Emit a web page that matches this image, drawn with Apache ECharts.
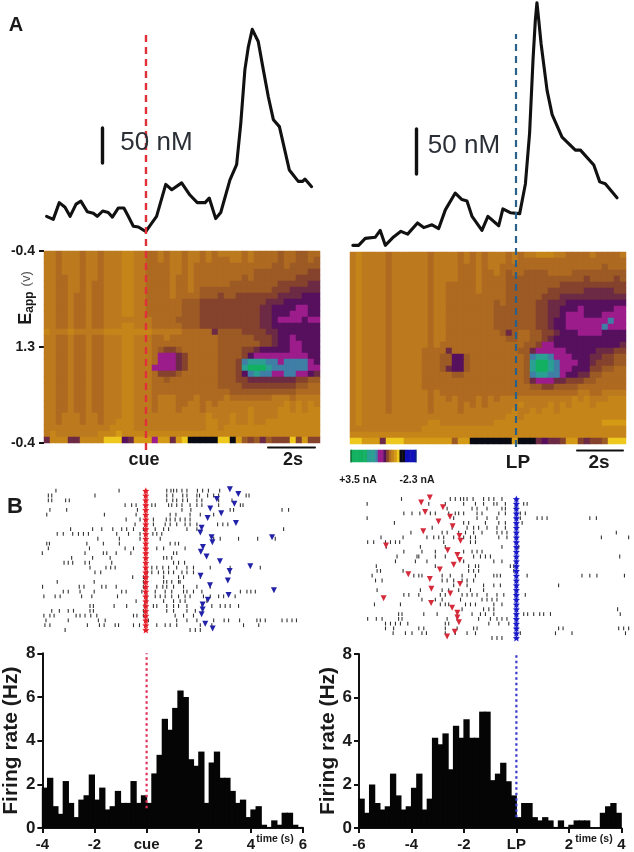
<!DOCTYPE html>
<html><head><meta charset="utf-8"><style>html,body{margin:0;background:#fff}#c{width:634px;height:852px}#c canvas{filter:blur(.45px)}</style>
<script src="https://cdn.jsdelivr.net/npm/echarts@6/dist/echarts.min.js"></script></head><body><div id="c"></div>
<script>
// Voltammetric traces: time (s) from event, concentration (nM)
const traceLeftTime=[-4.32,-4.03,-3.77,-3.52,-3.30,-3.04,-2.83,-2.55,-2.29,-2.12,-1.88,-1.64,-1.46,-1.20,-0.96,-0.77,-0.55,-0.33,-0.01,0.25,0.46,0.86,1.12,1.55,1.91,2.23,2.57,2.75,3.03,3.25,3.65,3.94,4.12,4.30,4.45,4.62,4.88,5.10,5.32,5.54,5.80,6.23,6.62,6.81,6.91,7.20];
const traceLeftNm=[18,14,36,30,18,34,38,24,22,18,25,23,17,29,29,18,5,4,-2,9,18,60,53,62,46,36,36,42,15,23,66,86,140,211,241,264,248,211,175,145,136,79,64,64,67,57];
const traceRightTime=[-7.09,-6.84,-6.55,-6.12,-5.90,-5.68,-5.32,-5.00,-4.71,-4.28,-4.01,-3.65,-3.36,-3.07,-2.64,-2.35,-2.13,-1.91,-1.48,-1.22,-0.75,-0.57,-0.25,0.16,0.41,0.59,0.74,0.84,0.91,0.99,1.09,1.35,1.57,2.00,2.58,2.80,3.38,3.64,3.88,4.39];
const traceRightNm=[5,5,12.5,13.6,21,5,14,20,17,29,24,27,23,43,61,54,52.5,36,21,36,26,44,40,39,71,125,204,246,265,246,221,171,145,121,107,107,91,73,71,56];
// Colour plots: level per cell, hex digit into the colour scale (groups of ten columns)
const heatLeftRows=[
"3343334334 3332233443 4334334343 3334344445 445544",
"3343334334 3332233443 4334334344 4334344445 445545",
"3343334334 3332233444 4334344444 4444444455 455555",
"3343334334 3332233444 4334344444 4444455555 555566",
"3344334334 3332233444 4344344444 4445455555 556666",
"3344334344 3332233444 4344344444 4555555556 666677",
"3344334344 3332233444 4344345555 5555555566 677777",
"3344344344 3332233444 4344445556 5566666667 777888",
"3344344344 3332233444 4445556666 6666666777 888888",
"3344344344 3332233444 4445556666 6666667788 889988",
"3344344344 3332233444 4445556666 6666667788 899988",
"3344344344 3333333344 4455556666 6666667789 999899",
"3344344344 3332233344 4445556666 6666667788 888888",
"2333233333 2222222233 3334444475 5556666778 888888",
"3344344344 3332233344 3444444445 5555566678 898888",
"3344344344 3332233344 4444444445 5555556678 899888",
"3344344344 3332233345 6654444445 5556678888 899888",
"3344344344 3332233349 9976444445 5556899999 999988",
"3344344344 3332233349 9976444445 556abbbaa9 aaaa98",
"3344344344 3332233399 9976444445 556bcccbaa aaaa99",
"3344344344 3332233346 6654444445 5568abaa99 aa9987",
"3344344344 3332233344 5444444445 5566777777 776655",
"3344344344 3332233344 4444444445 5556666666 665544",
"3344344344 3332233344 4444444444 4555555555 554444",
"3344344344 3332233343 3344434444 3444444433 343333",
"3344344344 3332233343 3344334343 3333333333 232323",
"3344344344 3332233343 3343334333 3333233332 232322",
"3343334334 3332233333 3333333233 3233233332 222222",
"3343334334 3322233333 3333333223 3233233222 222222",
"3333333333 3222233333 3333333223 2222222222 222222",
"3233333332 2212222222 2222222222 2222222222 222222",
"7222772222 0008711191 1710ddddd0 0d15657566 606166"];
const heatRightRows=[
"3233334333 3334333343 4343334343 3222334444 344443",
"3233334333 3334333343 4343334344 4444444444 444444",
"3233334333 3334333344 4343344444 4444444444 445444",
"3233334333 3334333344 4344345445 5554444555 555555",
"3233334333 3334333344 4344445555 5555555556 555565",
"3233334333 3334334444 4344445555 5555566666 666666",
"3233334333 3334334444 4344445555 5556666667 777766",
"3233334333 3334334444 4444445555 5566677777 777777",
"3233334333 3334334444 4444545555 5667778888 888888",
"3233334333 3334334444 4444555555 5667788898 888899",
"3233334333 3334334444 4444555555 5667789998 889999",
"3233334333 3334334444 4444555555 5667889999 999a99",
"3233334333 3334334444 4444555555 5667889999 99a999",
"3233334333 3334334444 4444457544 5566788899 998888",
"3233334333 3334334444 4444445544 5567888888 888888",
"3233334333 3334344444 4444444445 5699888888 888887",
"3233334333 3344447444 4444444455 7999998888 877766",
"3233334333 3344455885 4444444445 abba999888 776655",
"3233334333 3344455885 4444444445 bccba99988 766655",
"3233334333 3344457885 4444444445 bccba99888 665544",
"3233334333 3344444554 4444444445 abbaa98877 554444",
"3233334333 3344444444 4444444445 7999776665 544444",
"3233334333 3344444444 4444444444 5566555544 444444",
"3233334333 3334344444 4444444444 4444444433 443333",
"3233334333 3334334344 4343433333 3333333232 333222",
"3233334333 3334333343 4343333323 3332323222 322222",
"3233334333 3334333343 3333333233 2322322222 222222",
"3233333333 3333333333 3333332232 2222222222 222222",
"3233333333 3332233333 3333222222 2222222222 221111",
"3333333333 3322222222 2222222222 2222222222 222222",
"2222222222 2222222222 2222222222 2222222222 222222",
"0011170001 1111111511 ddddddd1dd d787761167 665000"];
const colorbarLevels=[12,12,12,12,12,12,11,11,11,10,9,9,8,6,4,2,1,0,13,13,14,14,14,14];
const colorScale=["#eec81c","#d49a16","#c68518","#bc7a1e","#ae6a20","#9c5a24","#85422c","#6c2a44","#56105e","#9c1c8c","#3f7fa6","#2b9f93","#12b060","#0a0a14","#1010b8"];
const eappTicks=["-0.4","1.3","-0.4"];
// Raster: spike times (s) per trial
const spikesCue=[
[-3.43,-1.02,.80,.96,1.06,1.18,1.38,1.57,1.97,2.17,2.39,2.82],
[-3.72,-3.59,-1.94,.80,1.03,1.41,1.57,1.95,2.05,2.36,2.59,2.78,3.83,3.94],
[-3.72,-3.59,-3.06,-2.92,.80,1.03,1.18,1.41,1.59,1.95,2.14,2.78,3.29],
[-.79,-.54,-.37,.23,.36,.87,.99,1.18,1.38,1.69,1.95,2.14,2.78,3.61,3.71],
[-3.66,-3.02,-.32,1.38,1.72,3.22,3.35,5.2,5.45],
[-3.78,-1.58,-.37,.93,1.15,1.69,2.08,2.59],
[-.75,-.22,.29,.78,.93,1.12,1.31,1.5,1.69],
[-.41,.29,.74,.93,1.18,1.5,1.69,1.95,2.74,2.94,3.13],
[-2.87,-2.03,-1.68,-1.26,-.92,-.73,-.47,-.09,.36,.68,.87,1.57,1.95,5.26],
[-3.38,-3.15,-2.79,-2.57,-2.38,-2.19,-1.11,-.66,-.22,.27,.42,.61],
[-1.83,-1.01,-.22,.55,2.59,2.84,3.54,4.27,4.94],
[-3.78,-3.68,-2.25,-1.62,-1.01,.93,1.12,1.25],
[-3.72,-2.15,-.79,-.47,.42,.68,1.5],
[-3.95,-2.32,-1.62,-1.49,-1.13,-.57,1.06,1.18],
[-2.83,-2.03,-1.36,.68,.8,.99],
[-3.12,-2.96,-2.79,-2.32,-2.15,-1.3,1.06,1.25,1.48],
[-2.13,-1.52,-1.34,-1.17,.23,.42,.65,.87,1.18,1.57,1.82,2.46,3.22,4.37],
[-1.94,-1.72,.06,.23,.48,.68,.87,1.06,1.38,1.57,1.82,3.22],
[-.5,-.09,.04,.68,1.25,1.44,2.08],
[-3.38,-1.97,-.09,.68,.8,.99,1.25,1.31],
[-3.94,-2.54,-2.36,-1.68,-1.52,-1.13,-.09,.42,.65,.8,1.06,1.44,1.95,2.46],
[-3.15,-2.96,-2.51,-1.97,-.92,-.75,-.15,.36,.74,.99,1.44,1.57,1.82,2.14,3.61,3.86,4.01,4.18],
[-3.89,-3.46,-3.27,-2.45,-2.06,-1.08,.04,.36,.55,.74,.99,1.25,1.5,1.69,2.2,2.46,2.78,2.97,3.41],
[-.37,.04,.68,1.06,1.31,1.5,2.33],
[-2.13,-2,-1.21,-.73,-.06,.29,.42,.8,1.06,1.25,1.57,2.14,2.52,2.84,3.03,3.22,3.54],
[-3.59,-3.3,-2.96,-2.76,-2.13,-2,-.09,.8,1.06,1.57,1.89],
[-3.89,-3.66,-3.5,-2.66,-2.51,-2.32,-2.1,-1.87,-.47,-.34,-.09,1.12,1.44,1.82],
[-3.81,-2.96,-1.81,-1.55,.1,1.18,1.57,1.95,2.59,2.99,3.16,3.58,4.24,4.37,4.56,5.2,5.39,5.58,5.75],
[-3.85,-3.66,-2.23,-1.77,-1.59,-1.17,-1.04,-.47,-.24,.42,.74,.93,1.18,2.08,2.52,3.73,4.31],
[-3.08,1.69,1.89,2.08]];
const spikesLp=[
[-4.38,-2.52,-2.33,-2.13,-2.01,-1.88,-1.65,-1.25,-1.05,-.86,-.55],
[-5.69,-3.34,-2.71,-2.01,-1.56,-1.25,-.86,-.74,-.42,.28,.41],
[-2.64,-1.69,-1.5,-1.12,-.55,-.42,-.04],
[-4.29,-3.98,-3.68,-3.28,-3.09,-2.58,-2.33,-2.2,-2.01,-1.5,-1.31,-.67,-.42,.15,.34],
[-5.69,-2.39,-1.5,-1.12,-.74,.15,.79,.98,1.17,2.8,3.05],
[-4.65,-2.01,-1.82,-1.18,-.67,-.42,.22],
[-3.21,-2.45,-1.88,-1.63,-1.44,-1.12,-.74,-.42,.03],
[-4.02,-2.83,-2.64,-2.2,-1.94,-1.63,-1.31,-.74,-.55,-.36,3.81],
[-5.16,-4.32,-3.41,-3.15,-2.96,-2.77,-2.39,-2.01,-1.75,-1.56,-.67,-.36,3.24,4.28],
[-5.67,-5.44,-4.99,-4.8,-4.61,-4.45,-2.77,-1.75,-1.56],
[-4.96,-3.66,-2.71,-.55,.09],
[-4.29,-3.6,-3.09,-2.01,-1.69,-1.5,-1.31],
[-4.55,-3.79,-3.72,-3.09,-2.71,-1.63,-1.37,-1.18,-.99,3.94],
[-4.61,-3.85,-3.41,-2.01,-.86,-.55],
[-5.34,-3.09,-1.82,-1.56,-1.44,-.23,-.1],
[-5.31,-5.18,-4.32,-1.82,-1.63,-1.44,-.1],
[-5.5,-3.91,-3.72,-3.6,-2.83,-2.52,-2.07,-1.56,-.86,-.74,-.61,.41,2.5,2.8,3.07,4.12],
[-5.37,-5.12,-2.83,-2.64,-2.39,-2.07,-1.88,-1.63],
[-2.39,-1.88,-1.25,-.86,-.61,1.61],
[-5.31,-3.66,-2.83,-2.58,-2.2,-1.75,-1.25],
[-4.29,-4.1,-3.72,-2.9,-2.71,-2.07,-1.88,-1.69,-1.5,-1.12,-.74,-.48,-.04,.34],
[-3.6,-3.09,-2.83,-2.13,-1.31,-1.12,-.93,-.74],
[-5.41,-4.42,-2.9,-2.71,-2.58,-1.94,-1.75,-1.56,-.86,-.55],
[-2.07,-1.25,-1.05,-.86,3.86],
[-4.49,-4.36,-3.53,-3.02,-2.26,-1.69,-1.37,-1.18,-.86,.28,.43,.66,.89,1.04,1.3,3.96],
[-5.67,-5.34,-5.12,-4.49,-4.36,-2.64,-2.26,-1.44,-.99,-.74,-.55,-.36],
[-4.99,-4.8,-4.61,-4.42,-4.14,-2.71,-2.58,-1.05,-.67,-.29],
[-4.99,-4.68,-3.72,-3.53,-2.71,-2.26,-1.63,-1.5,.03,1.61,1.78,3.9,4.09,4.28],
[-4.7,-4.23,-3.98,-3.6,-3.43,-2.71,-2.33,-1.88,-1.56,.15,1.49,2.12,4.16],
[-.93,-.74,-.55]];
// Triangles: lever press after cue / cue before lever press, per trial
const lpAfterCue=[[3.21],[3.53],[2.71],[3.38],[2.46],[2.88],[2.36],[3.44],[2.13],[2.08],[2.51,4.82],[2.54],[2.18],[2.1],[2.32],[2.83],[3.99],[3.2],[2.09],[3.13],[2.45],[4.89],[3.16],[2.37],[2.17],[2.17],[2.13],[],[2.27],[2.55]];
const cueBeforeLp=[[-3.3],[-3.63],[-2.8],[-3.48],[-2.53],[-2.97],[-2.43],[-3.55],[-2.17],[-2.13],[-4.97],[-2.62],[-2.25],[-2.16],[-2.39],[-2.92],[-4.12],[-3.3],[-2.15],[-3.24],[-2.52],[-5.06],[-3.25],[-2.45],[-2.25],[-2.25],[-2.19],[],[-2.35],[-2.64]];
// Histograms: firing rate (Hz) in 0.2 s bins
const rateCue=[1.85,2.3,1.0,.65,2.15,1.15,.5,1.3,1.5,2.45,1.3,1.85,.85,1.0,1.7,1.15,1.15,2.15,1.15,1.5,1.15,2.5,3.35,5.0,4.5,5.5,6.3,6.0,3.15,2.85,3.5,1.15,3.0,3.5,2.3,2.3,1.7,1.15,1.3,.5,.85,1.0,.15,.05,.35,.15,.7,.7,.15,.05];
const rateLp=[1.35,.7,2.0,1.15,.85,1.0,2.5,1.5,.85,1.0,1.85,2.5,.85,1.35,4.15,3.85,4.35,2.7,4.7,4.15,5.0,4.15,4.15,5.35,5.35,2.2,2.5,3.0,2.15,1.5,.5,1.15,1.15,.5,.35,.5,.35,.05,.35,.05,.15,.35,.35,.35,0,0,.7,1.0,1.15,.7];
const binStart={cue:-4,lp:-6}, binWidth=.2;

const font='"Liberation Sans",Arial,sans-serif', ink='#1a1a1a';
const grids=[
 {left:45,top:0,width:275,height:250},   //0 trace L
 {left:351,top:0,width:275,height:250},  //1 trace R
 {left:44,top:251,width:276,height:192}, //2 heat L
 {left:350,top:252,width:276,height:192},//3 heat R
 {left:351,top:450,width:65,height:12},  //4 colour bar
 {left:41,top:490.7,width:262,height:139.3}, //5 raster L
 {left:359,top:499,width:262.3,height:139},  //6 raster R
 {left:41,top:653.3,width:262,height:175},   //7 hist L
 {left:359,top:654,width:262.3,height:174.3},//8 hist R
 {left:45,top:34,width:275,height:416},  //9 guide L
 {left:351,top:34,width:275,height:413}  //10 guide R
].map(g=>({...g,containLabel:false}));
const hiddenVal=(gridIndex,min,max,inverse)=>({type:'value',gridIndex,min,max,inverse:!!inverse,show:false});
const seq=n=>Array.from({length:n},(_,i)=>String(i));
const hiddenCat=(gridIndex,n,inverse)=>({type:'category',gridIndex,data:seq(n),inverse:!!inverse,show:false});
const histX=(gridIndex,min,max,zero)=>({type:'value',gridIndex,min,max,interval:2,
 axisLine:{onZero:false,lineStyle:{color:'#111',width:2}},axisTick:{length:5,lineStyle:{color:'#111',width:2}},splitLine:{show:false},
 axisLabel:{color:ink,fontFamily:font,fontWeight:'bold',fontSize:15,margin:9,showMinLabel:true,showMaxLabel:true,formatter:v=>v===0?zero:String(v)}});
const histY=gridIndex=>({type:'value',gridIndex,min:0,max:8,interval:2,name:'Firing rate (Hz)',nameLocation:'middle',nameGap:18,nameRotate:90,
 nameTextStyle:{color:ink,fontFamily:font,fontSize:21,fontWeight:'bold'},
 axisLine:{show:true,onZero:false,lineStyle:{color:'#111',width:2}},axisTick:{show:true,length:5,lineStyle:{color:'#111',width:2}},splitLine:{show:false},
 axisLabel:{color:ink,fontFamily:font,fontWeight:'bold',fontSize:17,margin:7}});
const xAxis=[
 hiddenVal(0,-4.39,7.565),hiddenVal(1,-7.17,4.78),
 hiddenCat(2,46),hiddenCat(3,46),hiddenCat(4,colorbarLevels.length),
 hiddenVal(5,-4,6),hiddenVal(6,-6,4),
 histX(7,-4,6,'cue'),histX(8,-6,4,'LP'),
 hiddenVal(9,-4.39,7.565),hiddenVal(10,-7.17,4.78)];
const yAxis=[
 hiddenVal(0,-26.3,302.6),hiddenVal(1,0,267.9),
 hiddenCat(2,32,true),hiddenCat(3,32,true),hiddenCat(4,1),
 hiddenVal(5,0,29,true),hiddenVal(6,0,29,true),
 histY(7),histY(8),
 hiddenVal(9,0,1),hiddenVal(10,0,1),
 {type:'category',gridIndex:2,data:eappTicks,inverse:true,boundaryGap:false,position:'left',
  axisLine:{show:false},axisTick:{show:true,alignWithLabel:true,length:5,lineStyle:{color:'#111',width:2}},
  axisLabel:{interval:0,color:ink,fontFamily:font,fontWeight:'bold',fontSize:14,margin:9},splitLine:{show:false}}];
const pairs=(ts,ys)=>ts.map((t,i)=>[t,ys[i]]);
const trialPts=rows=>rows.flatMap((r,i)=>r.map(t=>[t,i]));
const cells=rows=>rows.flatMap((r,j)=>r.replace(/ /g,'').split('').map((ch,i)=>[i,j,parseInt(ch,16)]));
const binned=(rates,start)=>rates.map((v,i)=>[start+binWidth*(i+.5),v]);
const line=(i,data,color,width,type,cap)=>({type:'line',xAxisIndex:i,yAxisIndex:i,data,showSymbol:false,symbol:'none',silent:true,clip:false,
 lineStyle:{color,width,type:type||'solid',cap:cap||'round',join:'round'}});
const heat=(x,y,data)=>({type:'heatmap',xAxisIndex:x,yAxisIndex:y,data,silent:true,progressive:0,itemStyle:{borderWidth:0},emphasis:{disabled:true}});
const dots=(i,data,symbol,size,color,extra)=>({type:'scatter',xAxisIndex:i,yAxisIndex:i,data,symbol,symbolSize:size,silent:true,clip:false,itemStyle:{color,opacity:1},...extra});
const star='path://M5 0L6.5 3.5L10 4L7.5 6.5L8 10L5 8L2 10L2.5 6.5L0 4L3.5 3.5Z';
const allTrials=n=>Array.from({length:n},(_,i)=>[0,i]);
const histBar=(i,data)=>({type:'bar',xAxisIndex:i,yAxisIndex:i,data,barWidth:6.3,silent:true,itemStyle:{color:'#050505'}});
const series=[
 heat(2,2,cells(heatLeftRows)),heat(3,3,cells(heatRightRows)),
 heat(4,4,colorbarLevels.map((v,i)=>[i,0,v])),
 line(0,pairs(traceLeftTime,traceLeftNm),'#111',3.1),
 line(1,pairs(traceRightTime,traceRightNm),'#111',3.1),
 line(9,[[0,0],[0,1]],'#e0303a',2.4,[7,5],'butt'),
 line(10,[[0,0],[0,1]],'#2b6088',2.2,[7,5],'butt'),
 dots(5,trialPts(spikesCue),'rect',[1.1,3.8],'#333'),
 dots(6,trialPts(spikesLp),'rect',[1.1,3.8],'#333'),
 dots(5,allTrials(30),star,7,'#e4202c'),
 dots(6,allTrials(30),star,7,'#1a1ac8'),
 dots(5,trialPts(lpAfterCue),'triangle',[6,6],'#2222a8',{symbolRotate:180,symbolOffset:[0,-1.4]}),
 dots(6,trialPts(cueBeforeLp),'triangle',[6,6],'#d42a3a',{symbolRotate:180,symbolOffset:[0,-1.4]}),
 histBar(7,binned(rateCue,binStart.cue)),
 histBar(8,binned(rateLp,binStart.lp)),
 line(7,[[0,.9],[0,8]],'#e0305a',2.2,[2.5,3],'butt'),
 line(8,[[0,.5],[0,8]],'#3a3acc',2.2,[2.5,3],'butt')
];
const txt=(text,x,y,size,weight,extra)=>({type:'text',silent:true,x,y,z:50,style:{text,fontFamily:font,fontSize:size,fontWeight:weight||'normal',fill:ink,textAlign:'center',textVerticalAlign:'middle',...extra}});
const bar=(x1,y1,x2,y2,w,c)=>({type:'line',silent:true,z:50,shape:{x1,y1,x2,y2},style:{stroke:c||'#111',lineWidth:w,lineCap:'round'}});
const graphic=[
 txt('A',16,25,20,'bold'),txt('B',15,507,22,'bold'),
 txt('50 nM',156.5,143,26,'normal',{fill:'#2b2f36'}),txt('50 nM',464,146,26,'normal',{fill:'#2b2f36'}),
 bar(102.5,128,102.5,163,3.4),bar(416.5,129,416.5,174,3.4),
 txt('cue',144,460,18,'bold'),txt('LP',518,463,19,'bold'),
 txt('2s',293,460,18,'bold'),txt('2s',599,463,19,'bold'),
 bar(268,447.5,315,447.5,2),bar(577,450.5,623,450.5,2),
 bar(351,450,351,462,1.2,'#0a5a20'),bar(416,450,416,462,1.2,'#0a2a70'),
 txt('+3.5 nA',358,480,10.5,'bold'),txt('-2.3 nA',417,480,10.5,'bold'),
 {type:'text',silent:true,x:26,y:298,rotation:Math.PI/2,z:50,style:{text:'E{s|app} {v|(v)}',fontFamily:font,fontSize:18,fontWeight:'bold',fill:ink,textAlign:'center',textVerticalAlign:'middle',
  rich:{s:{fontSize:12,fontWeight:'bold',fontFamily:font,fill:ink,padding:[7,0,0,0]},v:{fontSize:13,fontWeight:'normal',fontFamily:font,fill:'#555'}}}},
 txt('time (s)',275,839,10.5,'bold'),txt('time (s)',594,839,10.5,'bold')
];
const chart=echarts.init(document.getElementById('c'),null,{renderer:'canvas'});
chart.setOption({animation:false,backgroundColor:'#fff',tooltip:{show:false},grid:grids,xAxis,yAxis,
 visualMap:{show:false,type:'piecewise',seriesIndex:[0,1,2],dimension:2,pieces:colorScale.map((color,value)=>({value,color}))},
 series,graphic});
</script></body></html>
